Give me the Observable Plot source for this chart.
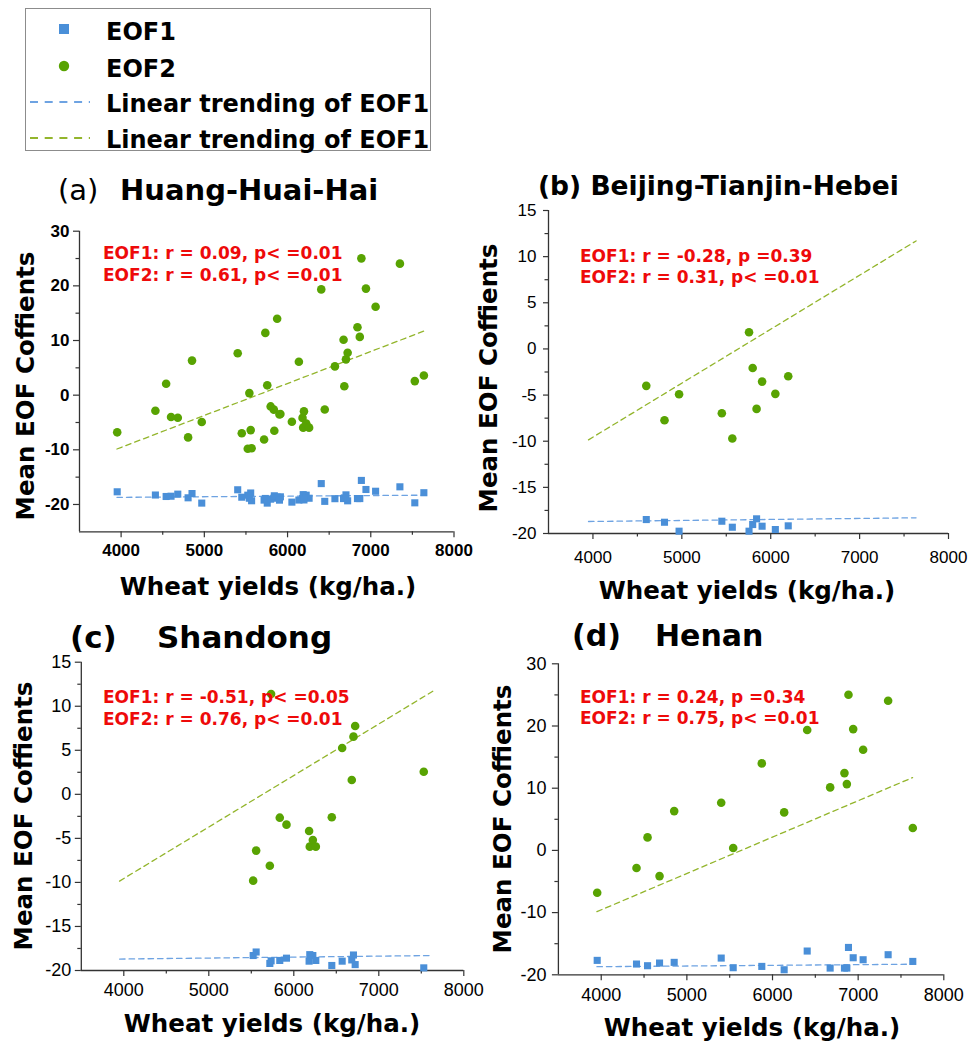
<!DOCTYPE html>
<html>
<head>
<meta charset="utf-8">
<script src="https://cdn.jsdelivr.net/npm/d3@7"></script>
<script src="https://cdn.jsdelivr.net/npm/@observablehq/plot@0.6"></script>
<style>
  body { margin: 0; background: #fff; }
  #page { position: relative; width: 971px; height: 1043px; overflow: hidden; background: #fff; }
  .t { position: absolute; line-height: 1; white-space: pre; font-family: "DejaVu Sans", sans-serif; color: #000; }
  .panel { position: absolute; }
</style>
</head>
<body>
<div id="page"></div>
<script>
// ---------------- data ----------------
const xDomain = [3500, 8000];
const xTicks = [4000, 5000, 6000, 7000, 8000];
const xMinorTicks = [4500, 5500, 6500, 7500];

// shared linear trend lines (end points)
const trendYield = [3950, 7635];
const trendEOF1 = [-18.7, -18.3];
const trendEOF2 = [-9.85, 11.7];

// Beijing-Tianjin-Hebei
const bthYield = [4600, 4805, 4969, 5450, 5568, 5756, 5797, 5841, 5903, 6052, 6197];
const bthEOF1 = [-18.49, -18.78, -19.75, -18.67, -19.32, -19.75, -19.03, -18.41, -19.21, -19.57, -19.17];
const bthEOF2 = [-4.0, -7.73, -4.91, -6.97, -9.71, 1.8, -2.06, -6.5, -3.54, -4.87, -2.96];

// Shandong
const sdYield = [5522, 5557, 5718, 5733, 5835, 5914, 6180, 6188, 6224, 6259, 6447, 6569, 6682, 6702, 6722, 7529];
const sdEOF1 = [-18.3, -17.9, -19.2, -18.9, -18.86, -18.6, -18.94, -18.2, -18.3, -18.86, -19.43, -18.94, -18.8, -18.24, -19.33, -19.7];
const sdEOF2 = [-9.8, -6.39, -8.1, 11.39, -2.65, -3.44, -4.16, -5.94, -5.18, -5.94, -2.61, 5.26, 1.63, 6.55, 7.76, 2.57];

// Henan
const hnYield = [3953, 4412, 4541, 4681, 4852, 5401, 5541, 5875, 6136, 6405, 6673, 6840, 6868, 6887, 6942, 7058, 7350, 7638];
const hnEOF1 = [-17.68, -18.27, -18.54, -18.11, -18.0, -17.31, -18.86, -18.65, -19.19, -16.18, -18.92, -18.92, -18.92, -15.6, -17.26, -17.58, -16.77, -17.85];
const hnEOF2 = [-6.8, -2.84, 2.09, -4.13, 6.32, 7.66, 0.38, 13.99, 6.11, 19.35, 10.13, 12.43, 10.66, 25.03, 19.5, 16.18, 24.06, 3.59];

// Huang-Huai-Hai = all three regions together
const hhhYield = [...hnYield, ...sdYield, ...bthYield];
const hhhEOF1 = [...hnEOF1, ...sdEOF1, ...bthEOF1];
const hhhEOF2 = [...hnEOF2, ...sdEOF2, ...bthEOF2];

const legendLabels = ["EOF1", "EOF2", "Linear trending of EOF1", "Linear trending of EOF1"];
const yLabel = "Mean EOF Coffients";
const xLabel = "Wheat yields (kg/ha.)";

// ---------------- style ----------------
const blue = "#4a8fd8";
const green = "#58a302";
const blueLine = "#6ea3e2";
const greenLine = "#93b52c";
const axisColor = "#333";
const red = "#ee0a0a";

const page = document.getElementById("page");

function txt(s, {x, y, size, weight = "bold", anchor = "start", color = "#000"}) {
  const d = document.createElement("div");
  d.className = "t";
  d.textContent = s;
  d.style.fontSize = size + "px";
  d.style.fontWeight = weight;
  d.style.color = color;
  d.style.top = (y - 0.846 * size) + "px";
  d.style.left = x + "px";
  if (anchor === "middle") d.style.transform = "translateX(-50%)";
  page.appendChild(d);
}
function vtxt(s, {cx, cy, size, weight = "bold"}) {
  const d = document.createElement("div");
  d.className = "t";
  d.textContent = s;
  d.style.fontSize = size + "px";
  d.style.fontWeight = weight;
  d.style.left = cx + "px";
  d.style.top = cy + "px";
  d.style.transform = "translate(-50%,-50%) rotate(-90deg)";
  page.appendChild(d);
}

function panel(cfg) {
  const pts1 = cfg.x.map((x, i) => ({x, y: cfg.e1[i]}));
  const pts2 = cfg.x.map((x, i) => ({x, y: cfg.e2[i]}));
  const t1 = trendYield.map((x, i) => ({x, y: trendEOF1[i]}));
  const t2 = trendYield.map((x, i) => ({x, y: trendEOF2[i]}));
  const fmt = d => String(d);
  const none = () => "";
  const svg = Plot.plot({
    width: cfg.w, height: cfg.h,
    marginLeft: cfg.ml, marginRight: cfg.mr, marginTop: cfg.mt, marginBottom: cfg.mb,
    x: {domain: xDomain, label: null},
    y: {domain: cfg.yDomain, label: null},
    style: {
      background: "transparent", overflow: "visible",
      fontFamily: '"Liberation Sans", Arial, sans-serif',
      fontSize: cfg.fs + "px", fontWeight: cfg.bold ? "bold" : "normal", color: axisColor
    },
    marks: [
      Plot.ruleX([xDomain[0]], {stroke: axisColor, strokeWidth: 1.3}),
      Plot.ruleY([cfg.yDomain[0]], {stroke: axisColor, strokeWidth: 1.3}),
      Plot.axisX(xTicks, {tickSize: 6, tickPadding: cfg.xPad, tickFormat: fmt, label: null, strokeWidth: 1.2, fill: "#000", fontSize: cfg.fs}),
      Plot.axisX(xMinorTicks, {tickSize: 3.5, tickFormat: none, label: null, strokeWidth: 1.2}),
      Plot.axisY(cfg.yMajor, {tickSize: cfg.yTick, tickPadding: cfg.yPad, tickFormat: fmt, label: null, strokeWidth: 1.2, fill: "#000", fontSize: cfg.fs}),
      Plot.axisY(cfg.yMinor, {tickSize: 3.5, tickFormat: none, label: null, strokeWidth: 1.2}),
      Plot.line(t1, {x: "x", y: "y", stroke: blueLine, strokeWidth: 1.3, strokeDasharray: "5.5,4"}),
      Plot.line(t2, {x: "x", y: "y", stroke: greenLine, strokeWidth: 1.3, strokeDasharray: "5.5,4"}),
      Plot.dot(pts1, {x: "x", y: "y", symbol: "square", r: 4, fill: blue}),
      Plot.dot(pts2, {x: "x", y: "y", symbol: "circle", r: 4.3, fill: green})
    ]
  });
  svg.classList.add("panel");
  svg.style.left = cfg.left + "px";
  svg.style.top = cfg.top + "px";
  page.appendChild(svg);
}

const major30 = [-20, -10, 0, 10, 20, 30];
const minor30 = [-15, -5, 5, 15, 25];
const major15 = [-20, -15, -10, -5, 0, 5, 10, 15];
const minor15 = [-17.5, -12.5, -7.5, -2.5, 2.5, 7.5, 12.5];

// (a)
panel({left: 0, top: 210, w: 480, h: 360, ml: 79, mr: 26.5, mt: 20.7, mb: 38.7,
  yDomain: [-25, 30], yMajor: major30, yMinor: minor30, fs: 17, bold: true,
  xPad: 6, yTick: 6, yPad: 4, x: hhhYield, e1: hhhEOF1, e2: hhhEOF2});
// (b)
panel({left: 480, top: 190, w: 491, h: 380, ml: 68, mr: 23, mt: 20, mb: 37,
  yDomain: [-20, 15], yMajor: major15, yMinor: minor15, fs: 17, bold: false,
  xPad: 11, yTick: 5, yPad: 7, x: bthYield, e1: bthEOF1, e2: bthEOF2});
// (c)
panel({left: 0, top: 640, w: 480, h: 380, ml: 80.8, mr: 16.7, mt: 21.7, mb: 50,
  yDomain: [-20, 15], yMajor: major15, yMinor: minor15, fs: 18, bold: false,
  xPad: 7, yTick: 6, yPad: 4, x: sdYield, e1: sdEOF1, e2: sdEOF2});
// (d)
panel({left: 480, top: 640, w: 491, h: 380, ml: 77.9, mr: 27.7, mt: 23.3, mb: 45.7,
  yDomain: [-20, 30], yMajor: major30, yMinor: minor30, fs: 18, bold: false,
  xPad: 7, yTick: 6, yPad: 6, x: hnYield, e1: hnEOF1, e2: hnEOF2});

// ---------------- titles ----------------
txt("(a)", {x: 58, y: 200.7, size: 29, weight: "normal"});
txt("Huang-Huai-Hai", {x: 120, y: 200.7, size: 29});
txt("(b) Beijing-Tianjin-Hebei", {x: 538, y: 195, size: 26.5});
txt("(c)", {x: 70, y: 648, size: 31});
txt("Shandong", {x: 157, y: 648, size: 31});
txt("(d)", {x: 572, y: 646, size: 30});
txt("Henan", {x: 655, y: 646, size: 30});

// ---------------- statistics annotations ----------------
const notes = [
  {x: 103, y: [259, 281], s: ["EOF1: r = 0.09, p< =0.01", "EOF2: r = 0.61, p< =0.01"]},
  {x: 580, y: [262, 283], s: ["EOF1: r = -0.28, p =0.39", "EOF2: r = 0.31, p< =0.01"]},
  {x: 103, y: [703, 725], s: ["EOF1: r = -0.51, p< =0.05", "EOF2: r = 0.76, p< =0.01"]},
  {x: 580, y: [703, 724], s: ["EOF1: r = 0.24, p =0.34", "EOF2: r = 0.75, p< =0.01"]}
];
notes.forEach(n => n.s.forEach((s, i) => txt(s, {x: n.x, y: n.y[i], size: 17, color: red})));

// ---------------- axis labels ----------------
[[268, 596], [747, 600], [272, 1033], [752, 1037]].forEach(([x, y]) =>
  txt(xLabel, {x, y, size: 24.5, anchor: "middle"}));
[[26, 386], [489, 378], [24, 816], [503, 819]].forEach(([cx, cy]) =>
  vtxt(yLabel, {cx, cy, size: 24.5}));

// ---------------- legend ----------------
const box = document.createElement("div");
Object.assign(box.style, {position: "absolute", left: "25px", top: "8px", width: "406px", height: "143px",
  border: "1px solid #8c8c8c", boxSizing: "border-box"});
page.appendChild(box);
const lsvg = d3.create("svg").attr("width", 100).attr("height", 150)
  .style("position", "absolute").style("left", "0px").style("top", "0px");
lsvg.append("rect").attr("x", 59).attr("y", 24).attr("width", 10).attr("height", 10).attr("fill", blue);
lsvg.append("circle").attr("cx", 64).attr("cy", 66).attr("r", 5.2).attr("fill", green);
lsvg.append("line").attr("x1", 30).attr("x2", 90).attr("y1", 102).attr("y2", 102)
  .attr("stroke", blueLine).attr("stroke-width", 1.8).attr("stroke-dasharray", "8,6.7");
lsvg.append("line").attr("x1", 30).attr("x2", 90).attr("y1", 138).attr("y2", 138)
  .attr("stroke", greenLine).attr("stroke-width", 1.8).attr("stroke-dasharray", "8,6.7");
page.appendChild(lsvg.node());
[40, 77, 112, 148].forEach((y, i) => txt(legendLabels[i], {x: 106, y, size: 24}));
</script>
</body>
</html>
